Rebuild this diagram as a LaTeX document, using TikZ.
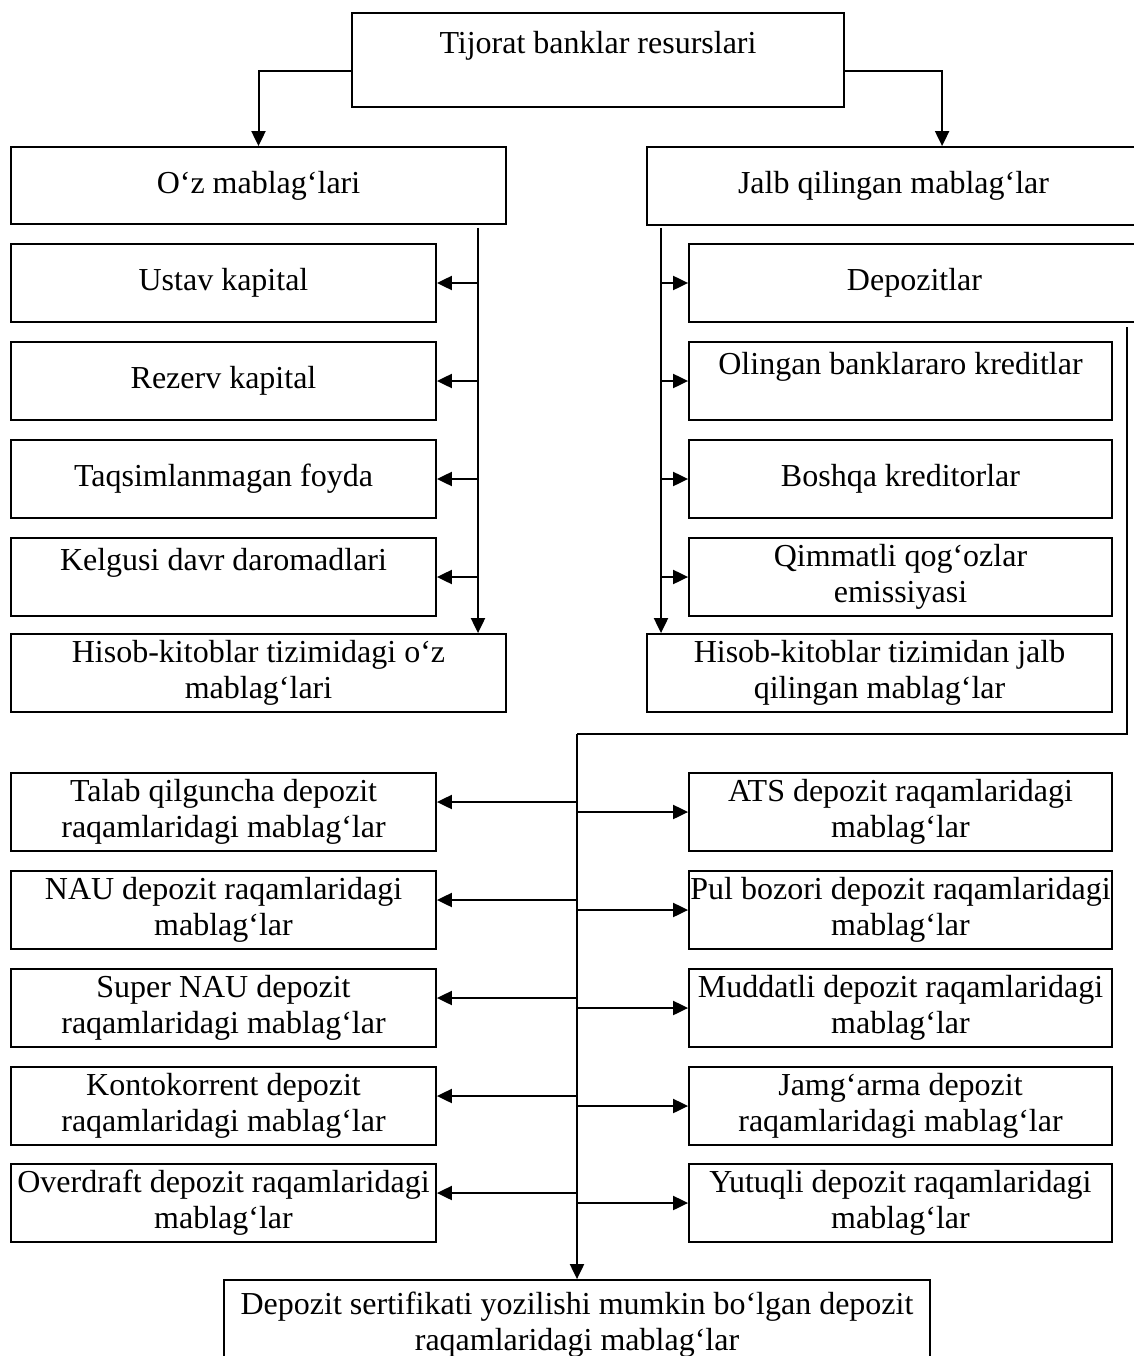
\documentclass[tikz,border=0pt]{standalone}
\usepackage{fontspec}
\setmainfont{Liberation Serif}
\usetikzlibrary{arrows.meta,calc}

\begin{document}
\begin{tikzpicture}[x=1pt,y=-1pt,
    box/.style={draw,line width=1.8pt,align=center,inner sep=1pt,
      font=\fontsize{32}{36}\selectfont},
    lbox/.style={box,minimum width=425pt,minimum height=78pt},
    rbox/.style={box,minimum width=423pt,minimum height=78pt},
    arr/.style={line width=2pt,-{Triangle[length=15pt,width=14pt]}},
    link/.style={line width=2pt}]
  \useasboundingbox (0,0) rectangle (1133,1356);
  % top level
  \node[box,minimum width=492pt,minimum height=94pt] (top) at (598,60)
    {Tijorat banklar resurslari\\\mbox{}};
  \node[box,minimum width=495pt,minimum height=77pt] (oz) at (258.5,185.5)
    {O‘z mablag‘lari};
  \node[box,minimum width=493pt,minimum height=78pt] (jalb) at (893.5,186)
    {Jalb qilingan mablag‘lar};
  \draw[arr] ($(top.west)+(0,11)$) -| (oz.north);
  \draw[arr] ($(top.east)+(0,11)$) -| ($(jalb.north west)+(296,0)$);
  % own funds
  \node[lbox] (ustav) at (223.5,283) {Ustav kapital};
  \node[lbox] (rezerv) at (223.5,381) {Rezerv kapital};
  \node[lbox] (taqsim) at (223.5,479) {Taqsimlanmagan foyda};
  \node[lbox] (kelgusi) at (223.5,577) {Kelgusi davr daromadlari\\\mbox{}};
  \node[box,minimum width=495pt,minimum height=78pt] (hisobL) at (258.5,673)
    {Hisob-kitoblar tizimidagi o‘z\\mablag‘lari};
  \coordinate (lb) at (478,228);
  \draw[arr] (lb) -- (lb |- hisobL.north);
  \foreach \n in {ustav,rezerv,taqsim,kelgusi}
    \draw[arr] (lb |- \n.east) -- (\n.east);
  % attracted funds
  \node[box,minimum width=451pt,minimum height=78pt] (depoz) at (914.5,283)
    {Depozitlar};
  \node[rbox] (olingan) at (900.5,381) {Olingan banklararo kreditlar\\\mbox{}};
  \node[rbox] (boshqa) at (900.5,479) {Boshqa kreditorlar};
  \node[rbox] (qimmat) at (900.5,577) {Qimmatli qog‘ozlar\\emissiyasi};
  \node[box,minimum width=465pt,minimum height=78pt] (hisobR) at (879.5,673)
    {Hisob-kitoblar tizimidan jalb\\qilingan mablag‘lar};
  \coordinate (rb) at (661,228);
  \draw[arr] (rb) -- (rb |- hisobR.north);
  \foreach \n in {depoz,olingan,boshqa,qimmat}
    \draw[arr] (rb |- \n.west) -- (\n.west);
  % deposits
  \node[lbox] (talab) at (223.5,812) {Talab qilguncha depozit\\raqamlaridagi mablag‘lar};
  \node[lbox] (nau) at (223.5,910) {NAU depozit raqamlaridagi\\mablag‘lar};
  \node[lbox] (supernau) at (223.5,1008) {Super NAU depozit\\raqamlaridagi mablag‘lar};
  \node[lbox] (konto) at (223.5,1106) {Kontokorrent depozit\\raqamlaridagi mablag‘lar};
  \node[lbox] (overdraft) at (223.5,1203) {Overdraft depozit raqamlaridagi\\mablag‘lar};
  \node[rbox] (ats) at (900.5,812) {ATS depozit raqamlaridagi\\mablag‘lar};
  \node[rbox] (pul) at (900.5,910) {Pul bozori depozit raqamlaridagi\\mablag‘lar};
  \node[rbox] (muddat) at (900.5,1008) {Muddatli depozit raqamlaridagi\\mablag‘lar};
  \node[rbox] (jamgarma) at (900.5,1106) {Jamg‘arma depozit\\raqamlaridagi mablag‘lar};
  \node[rbox] (yutuq) at (900.5,1203) {Yutuqli depozit raqamlaridagi\\mablag‘lar};
  \node[box,minimum width=706pt,minimum height=90pt] (sert) at (577,1325)
    {Depozit sertifikati yozilishi mumkin bo‘lgan depozit\\raqamlaridagi mablag‘lar};
  \coordinate (rc) at (1127,327);
  \coordinate (bus) at (577,734);
  \draw[link] (rc) |- (bus);
  \draw[arr] (bus) -- (bus |- sert.north);
  \foreach \n in {talab,nau,supernau,konto,overdraft}
    \draw[arr] ($(bus |- \n.east)+(0,-10)$) -- ($(\n.east)+(0,-10)$);
  \foreach \n in {ats,pul,muddat,jamgarma,yutuq}
    \draw[arr] (bus |- \n.west) -- (\n.west);
\end{tikzpicture}
\end{document}
